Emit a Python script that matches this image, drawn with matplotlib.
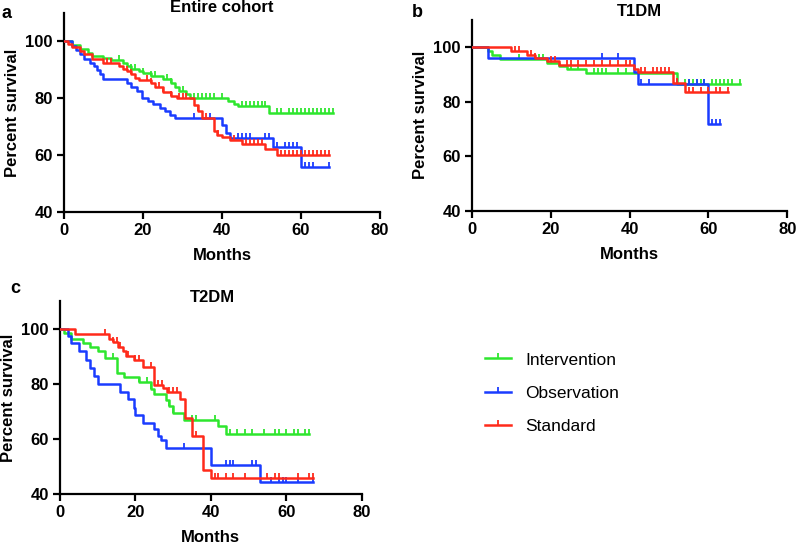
import numpy as np
import matplotlib
matplotlib.use("Agg")
import matplotlib.pyplot as plt
from matplotlib.lines import Line2D

plt.rcParams['font.family'] = ['Liberation Sans', 'DejaVu Sans']

groups = ["Intervention", "Observation", "Standard"]
colors = ["#2ee62e", "#1a3cff", "#ff2a1a"]

# ---- panel a: entire cohort ----
a_int_t = [0, 2, 4, 6, 7, 10, 12, 15, 16, 17, 19, 20, 22, 25, 27, 28, 29, 31, 32, 41.5, 43, 44, 52, 68]
a_int_s = [100, 98.7, 97.3, 96, 95, 94.3, 93.5, 92.3, 91.4, 90.5, 89.6, 88.8, 87.9, 86.7, 85.5, 84.1, 82.6, 81.4, 80, 79, 78.2, 77.2, 75, 75]
a_int_c = [14, 17, 18, 20, 22, 23, 26, 27, 30, 33, 34, 35, 36, 37, 38, 40, 45, 46, 47, 48, 49, 50, 51,
           54, 55, 57, 58, 59, 60, 61, 62, 63, 64, 65, 66, 67, 68]
a_obs_t = [0, 2, 3, 4, 5, 6.5, 7.5, 8.3, 9, 10, 16, 17, 18.5, 19.7, 21.3, 22.6, 24.3, 25.6, 26.8, 28, 40, 41, 42, 53, 60, 67]
a_obs_s = [100, 98.5, 97, 95.5, 94, 92.6, 91.4, 90, 88.5, 86.7, 85.5, 84.1, 82.6, 80.2, 79, 77.9, 76.7, 75.5, 74.3, 73.2, 70.5, 68, 66.2, 62.8, 55.8, 55.8]
a_obs_c = [33, 37, 44, 45, 46, 47, 51, 52, 54, 56, 57, 58, 59, 61, 62, 63, 67]
a_std_t = [0, 1, 2, 4, 5, 7, 10, 14, 15, 16, 17, 18, 19, 22, 23, 25, 27, 28.5, 33, 34, 35, 38, 38.8, 40, 42, 45, 51, 54, 67]
a_std_s = [100, 99, 98, 96.5, 95.5, 94, 92.6, 91.4, 90.5, 89.6, 88.5, 87.3, 86.5, 85.5, 84.1, 82.2, 81, 80.2, 77.5, 75.5, 73.2, 68.5, 67.3, 66.5, 65.3, 64, 62.2, 60.2, 60.2]
a_std_c = [11, 12, 16, 17, 21, 22, 24, 25, 27, 29, 30, 31, 34, 36, 39, 43, 46, 47, 48, 49, 50,
           55, 56, 57, 58, 59, 60, 61, 62, 63, 64, 65, 66, 67]

# ---- panel b: T1DM ----
b_int_t = [0, 4, 5, 7, 19, 22, 24, 29, 52, 68]
b_int_s = [100, 98.5, 97, 95.5, 94, 93, 92, 90.3, 86.3, 86.3]
b_int_c = [12, 16, 17, 18, 20, 25, 27, 31, 32, 33, 34, 37, 39, 54, 55, 56, 57, 58, 59, 61, 62, 63, 64, 65, 66, 68]
b_obs_t = [0, 4, 41, 42, 60, 63]
b_obs_s = [100, 95.8, 91, 86.6, 72, 72]
b_obs_c = [33, 37, 43, 45, 52, 55, 57, 59, 61, 62, 63]
b_std_t = [0, 10, 14, 16, 19, 22, 41, 42, 51, 54, 65]
b_std_s = [100, 98.6, 97.2, 96, 95, 93.5, 92, 90.8, 87, 83.5, 83.5]
b_std_c = [11, 12, 15, 16, 20, 21, 24, 25, 27, 29, 31, 33, 35, 37, 39, 40, 43, 44, 46, 47, 48, 49, 50,
           52, 55, 56, 58, 60, 62, 63, 65]

# ---- panel c: T2DM ----
c_int_t = [0, 1, 3, 6, 8, 10, 12, 15, 17, 21, 24, 25, 28, 29, 30, 33, 42, 44, 66]
c_int_s = [100, 98.5, 96.5, 95, 93.3, 91.8, 89.5, 84, 82.5, 80.6, 78.3, 76.5, 74, 71.9, 69.4, 67, 64.6, 61.8, 61.8]
c_int_c = [14, 21, 23, 24, 29, 30, 35, 36, 41, 45, 47, 49, 51, 54, 57, 58, 60, 62, 63, 65, 66]
c_obs_t = [0, 2, 3, 5, 7, 8, 9, 10, 16, 18, 19.5, 20, 22, 25, 26, 26.7, 28, 40, 53, 67]
c_obs_s = [100, 97.3, 94.7, 91.9, 88.8, 85.8, 82.8, 80, 77, 74.5, 71.3, 68.6, 65.8, 63.6, 61.2, 59.5, 56.7, 50.5, 44.4, 44.4]
c_obs_c = [33, 44, 45, 46, 51, 52, 56, 58, 59, 60, 63, 67]
c_std_t = [0, 4, 13, 14, 15.5, 16.8, 17.5, 19.5, 22, 25, 27.4, 28.5, 31.8, 33.2, 35, 37.8, 40, 67]
c_std_s = [100, 98.3, 96.5, 95.2, 93.5, 91.9, 90, 88.6, 86, 79.7, 78.5, 77, 74.6, 67.5, 61.2, 48.8, 45.8, 45.8]
c_std_c = [12, 14, 15, 16, 18, 20, 21, 24, 26, 27, 29, 30, 31, 36, 41, 42, 44, 46, 49, 55, 57, 58, 63, 66, 67]

panels = [
    ("a", "Entire cohort", [(a_int_t, a_int_s, a_int_c), (a_obs_t, a_obs_s, a_obs_c), (a_std_t, a_std_s, a_std_c)]),
    ("b", "T1DM", [(b_int_t, b_int_s, b_int_c), (b_obs_t, b_obs_s, b_obs_c), (b_std_t, b_std_s, b_std_c)]),
    ("c", "T2DM", [(c_int_t, c_int_s, c_int_c), (c_obs_t, c_obs_s, c_obs_c), (c_std_t, c_std_s, c_std_c)]),
]
W, H = 796, 544
# axes rectangles in figure fraction
rects = [[0.0804, 0.610, 0.397, 0.366],
         [0.593, 0.612, 0.396, 0.352],
         [0.0754, 0.092, 0.379, 0.354]]
# letter (x, y top) and title (x center, y center) in pixels
letter_px = [(2, 5), (412, 4), (10, 280)]
title_px = [(222, 8), (639, 12), (212, 297)]

tick = [(0, 0), (0, 1)]  # upward censor tick

fig = plt.figure(figsize=(7.96, 5.44), dpi=100)

def step_val(t, s, x):
    i = np.searchsorted(t, x, side="right") - 1
    return np.asarray(s)[i]

for (letter, title, series), r, lp, tp in zip(panels, rects, letter_px, title_px):
    ax = fig.add_axes(r)
    for (t, s, c), col in zip(series, colors):
        ax.plot(t, s, drawstyle="steps-post", color=col, lw=1.8, zorder=3)
        cy = step_val(t, s, c)
        ax.plot(c, cy, ls="none", marker=tick, ms=7, mew=1.3, color=col, zorder=3)
    ax.set_xlim(0, 80)
    ax.set_ylim(40, 110)
    ax.set_xticks([0, 20, 40, 60, 80])
    ax.set_yticks([40, 60, 80, 100])
    ax.spines["top"].set_visible(False)
    ax.spines["right"].set_visible(False)
    for sp in ("left", "bottom"):
        ax.spines[sp].set_linewidth(1.6)
    ax.tick_params(width=1.6, length=5, labelsize=12, pad=3)
    for lab in ax.get_xticklabels() + ax.get_yticklabels():
        lab.set_fontweight("bold")
    ax.set_xlabel("Months", fontsize=12, fontweight="bold", labelpad=7)
    ax.set_ylabel("Percent survival", fontsize=12, fontweight="bold", labelpad=4)
    fig.text(tp[0] / W, 1 - tp[1] / H, title, fontsize=12, fontweight="bold", ha="center", va="center")
    fig.text(lp[0] / W, 1 - lp[1] / H, letter, fontsize=13, fontweight="bold", va="top", ha="left")

handles = [Line2D([0], [0], color=col, lw=1.8, marker=tick, ms=7, mew=1.3) for col in colors]
fig.legend(handles, groups, loc="center left", bbox_to_anchor=(0.59, 0.277), frameon=False,
           fontsize=12.5, handlelength=1.5, handletextpad=0.8, labelspacing=1.05)

fig.savefig("out.png", dpi=100)
